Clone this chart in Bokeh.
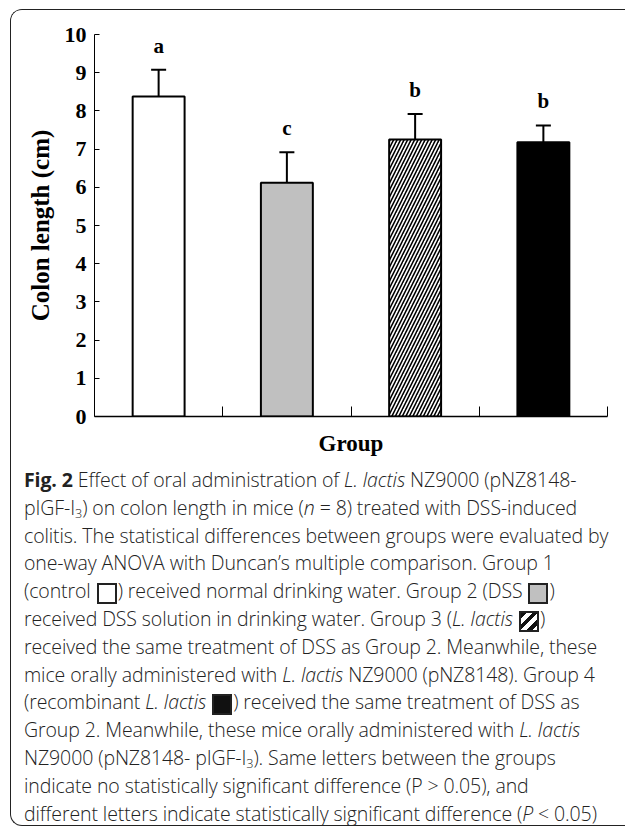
from bokeh.plotting import figure
from bokeh.models import (Range1d, FixedTicker, Whisker, TeeHead, ColumnDataSource,
                          Div, Column)
from bokeh.embed import file_html
from bokeh.resources import INLINE
from bokeh.core.properties import value

# ---- data ----
groups = ["Group 1", "Group 2", "Group 3", "Group 4"]
means = [8.38, 6.12, 7.25, 7.18]
sds = [0.70, 0.80, 0.67, 0.44]
letters = ["a", "c", "b", "b"]
fills = ["#ffffff", "#c0c0c0", "#ffffff", "#000000"]
hatches = [" ", " ", "/", " "]
y_ticks = [0, 1, 2, 3, 4, 5, 6, 7, 8, 9, 10]

xs = [i + 0.5 for i in range(len(groups))]
src = ColumnDataSource(dict(
    x=xs, top=means, upper=[m + s for m, s in zip(means, sds)],
    letter=letters, fill=fills, hatch=hatches))

SERIF = "Liberation Serif"

p = figure(width=615, height=449, x_range=Range1d(0, 4), y_range=Range1d(0, 10),
           output_backend="svg", toolbar_location=None,
           min_border_left=83, min_border_right=19, min_border_top=24,
           min_border_bottom=43)
p.outline_line_color = None
p.xgrid.visible = False
p.ygrid.visible = False

p.vbar(x="x", top="top", bottom=0, width=0.405, source=src,
       fill_color="fill", line_color="black", line_width=2,
       hatch_pattern="hatch", hatch_color="black", hatch_scale=7, hatch_weight=1.6)

w = Whisker(base="x", upper="upper", lower="top", source=src, dimension="height",
            line_color="black", line_width=2,
            upper_head=TeeHead(size=15, line_color="black", line_width=2),
            lower_head=None)
p.add_layout(w)

p.text(x="x", y="upper", text="letter", source=src, y_offset=-12,
       text_align="center", text_baseline="bottom",
       text_font=value(SERIF), text_font_style="bold", text_font_size="21px",
       text_color="black")

# y axis
ya = p.yaxis[0]
ya.ticker = FixedTicker(ticks=y_ticks)
ya.minor_tick_line_color = None
ya.major_tick_in = 5
ya.major_tick_out = 0
ya.axis_line_color = "black"
ya.axis_line_width = 1
ya.major_tick_line_color = "black"
ya.major_label_text_font = SERIF
ya.major_label_text_font_style = "bold"
ya.major_label_text_font_size = "22px"
ya.major_label_text_color = "black"
ya.major_label_standoff = 8
ya.axis_label = "Colon length (cm)"
ya.axis_label_text_font = SERIF
ya.axis_label_text_font_style = "bold"
ya.axis_label_text_font_size = "25px"
ya.axis_label_text_color = "black"
ya.axis_label_standoff = 8

# x axis
xa = p.xaxis[0]
xa.ticker = FixedTicker(ticks=[1, 2, 3, 4])
xa.major_label_overrides = {1: "", 2: "", 3: "", 4: ""}
xa.minor_tick_line_color = None
xa.major_tick_in = 10
xa.major_tick_out = 0
xa.axis_line_color = "black"
xa.axis_line_width = 1.5
xa.major_tick_line_color = "black"
xa.major_label_text_font_size = "1px"
xa.major_label_standoff = 0
xa.axis_label = "Group"
xa.axis_label_text_font = SERIF
xa.axis_label_text_font_style = "bold"
xa.axis_label_text_font_size = "23px"
xa.axis_label_text_color = "black"
xa.axis_label_standoff = 14

# ---- caption ----
box = "display:inline-block;width:20px;height:21px;border:2px solid #222;vertical-align:-6px;margin:0 1px;"
white_box = f'<span style="{box}background:#ffffff;"></span>'
gray_box = f'<span style="{box}background:#c0c0c0;"></span>'
hatch_box = (f'<span style="{box}background:repeating-linear-gradient(135deg,#111 0 4px,#fff 4px 8px);"></span>')
black_box = f'<span style="{box}background:#111111;"></span>'
LL = "<i>L. lactis</i>"
caption_lines = [
    f'<b style="font-weight:700;">Fig. 2</b> Effect of oral administration of {LL} NZ9000 (pNZ8148-',
    "pIGF-I<sub>3</sub>) on colon length in mice (<i>n</i> = 8) treated with DSS-induced",
    "colitis. The statistical differences between groups were evaluated by",
    "one-way ANOVA with Duncan’s multiple comparison. Group 1",
    f"(control {white_box}) received normal drinking water. Group 2 (DSS {gray_box})",
    f"received DSS solution in drinking water. Group 3 ({LL} {hatch_box})",
    "received the same treatment of DSS as Group 2. Meanwhile, these",
    f"mice orally administered with {LL} NZ9000 (pNZ8148). Group 4",
    f"(recombinant {LL} {black_box}) received the same treatment of DSS as",
    f"Group 2. Meanwhile, these mice orally administered with {LL}",
    "NZ9000 (pNZ8148- pIGF-I<sub>3</sub>). Same letters between the groups",
    "indicate no statistically significant difference (P &gt; 0.05), and",
    "different letters indicate statistically significant difference (<i>P</i> &lt; 0.05)",
]
inner = "".join(f'<div style="height:27.8px;line-height:27.8px;">{ln}</div>' for ln in caption_lines)
html = ('<div style="font-family:\'Open Sans\';font-weight:300;font-size:19.5px;color:#222;'
        'white-space:nowrap;padding-left:13px;padding-top:7px;letter-spacing:-0.1px;">'
        '<style>sub{font-size:65%;vertical-align:-3px;line-height:0;}</style>'
        f'{inner}</div>')
div = Div(text=html, width=615, height=366, margin=0)

layout = Column(children=[p, div], margin=(9, 0, 0, 10), spacing=0,
                styles={"border-top": "1.5px solid #222", "border-left": "1.5px solid #222",
                        "border-bottom": "1.5px solid #222",
                        "border-top-left-radius": "12px",
                        "border-bottom-left-radius": "12px",
                        "overflow": "hidden"})

open("out.html", "w").write(file_html(layout, INLINE))
